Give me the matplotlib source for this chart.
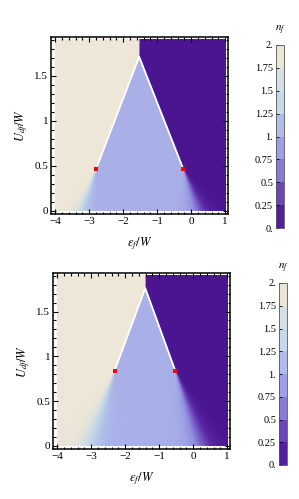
import numpy as np
import matplotlib
matplotlib.use("Agg")
import matplotlib.pyplot as plt
from matplotlib.colors import LinearSegmentedColormap, ListedColormap, BoundaryNorm
from matplotlib.cm import ScalarMappable
from matplotlib.ticker import MultipleLocator, FixedLocator

plt.rcParams['font.family'] = ['Liberation Serif', 'DejaVu Serif']
plt.rcParams['mathtext.fontset'] = 'stix'

# ---- data ----
# panel 1 (top) and panel 2 (bottom): apex of the triangle, critical end points
apex_top = (-1.53, 1.71)
crit_left_top = (-2.80, 0.46)
crit_right_top = (-0.23, 0.46)
apex_bot = (-1.41, 1.76)
crit_left_bot = (-2.31, 0.84)
crit_right_bot = (-0.53, 0.84)
# crossover width growth below the critical points (left, right)
width_top = (0.28, 0.38)
width_bot = (0.27, 0.28)

# colours of n_f = 0 ... 2
cmap_levels = [0.0, 0.25, 0.5, 0.75, 1.0, 1.25, 1.5, 1.75, 2.0]
cmap_colors = ['#4b1590', '#5a2aa6', '#7658c4', '#9290e0', '#a9b0e8',
               '#b8c8ea', '#c8dbe8', '#dfe2dc', '#eee7d8']
band_colors = ['#52209e', '#6b46b8', '#8a7ad8', '#9e9fe6',
               '#b2bcea', '#c6d8ea', '#d6dfe1', '#ebe6d8']
cbar_ticks = [0, 0.25, 0.5, 0.75, 1, 1.25, 1.5, 1.75, 2]
cbar_labels = ['0.', '0.25', '0.5', '0.75', '1.', '1.25', '1.5', '1.75', '2.']
xticks = [-4, -3, -2, -1, 0, 1]
xtick_labels = ['\u22124', '\u22123', '\u22122', '\u22121', '0', '1']
yticks = [0, 0.5, 1, 1.5]
ytick_labels = ['0', '0.5', '1', '1.5']

cmap = LinearSegmentedColormap.from_list(
    'nf', list(zip(np.array(cmap_levels) / 2, cmap_colors)))
band_cmap = ListedColormap(band_colors)
band_norm = BoundaryNorm(cbar_ticks, len(band_colors))


def boundary(y, apex, crit):
    slope = (apex[0] - crit[0]) / (apex[1] - crit[1])
    xb = crit[0] + slope * (y - crit[1])
    return np.where(y > apex[1], apex[0], xb)


def field(apex, cl, cr, wid):
    x = np.linspace(-4, 1, 500)
    y = np.linspace(0, 1.9, 400)
    X, Y = np.meshgrid(x, y)
    xl = boundary(Y, apex, cl)
    xr = boundary(Y, apex, cr)
    wl = np.maximum(cl[1] - Y, 0) * wid[0] + 1e-3
    wr = np.maximum(cr[1] - Y, 0) * wid[1] + 1e-3
    nl = 1 / (1 + np.exp(np.clip((X - xl) / wl, -50, 50)))
    nr = 1 / (1 + np.exp(np.clip((X - xr) / wr, -50, 50)))
    return nl + nr


def panel(ax, cax, apex, cl, cr, wid, xlab):
    nf = field(apex, cl, cr, wid)
    ax.imshow(nf, origin='lower', extent=[-4, 1, 0, 1.9], aspect='auto',
              cmap=cmap, vmin=0, vmax=2, interpolation='bilinear')
    ax.plot([cl[0], apex[0], cr[0]], [cl[1], apex[1], cr[1]],
            color='white', lw=1.3, solid_capstyle='butt')
    ax.plot([cl[0], cr[0]], [cl[1], cr[1]], 's', color='red', ms=2.2, mew=0)
    ax.set_xlim(-4.12, 1.08)
    ax.set_ylim(-0.035, 1.93)
    ax.xaxis.set_major_locator(FixedLocator(xticks))
    ax.set_xticklabels(xtick_labels)
    ax.yaxis.set_major_locator(FixedLocator(yticks))
    ax.set_yticklabels(ytick_labels)
    ax.xaxis.set_minor_locator(MultipleLocator(0.2))
    ax.yaxis.set_minor_locator(MultipleLocator(0.1))
    ax.tick_params(which='both', direction='in', top=True, right=True,
                   labelsize=8, width=0.8, pad=2)
    ax.tick_params(which='major', length=3.5)
    ax.tick_params(which='minor', length=1.8)
    for s in ax.spines.values():
        s.set_linewidth(1.1)
    ax.set_xlabel(xlab, fontsize=9, labelpad=7)
    ax.set_ylabel(r'$U_{df}/W$', fontsize=9, labelpad=3)

    cb = plt.colorbar(ScalarMappable(norm=band_norm, cmap=band_cmap), cax=cax,
                      ticks=cbar_ticks)
    cb.ax.set_yticklabels(cbar_labels)
    cb.ax.yaxis.set_ticks_position('left')
    cb.ax.tick_params(direction='in', length=2, width=0.6, labelsize=7.5, pad=2)
    cb.outline.set_linewidth(0.6)
    cb.outline.set_edgecolor('#555555')
    cax.set_title(r'$n_f$', fontsize=8, pad=10)


W, H = 299, 499
fig = plt.figure(figsize=(W / 100, H / 100), dpi=100)

ax1 = fig.add_axes([51 / W, 1 - 214 / H, 177 / W, 177 / H])
cax1 = fig.add_axes([276 / W, 1 - 228 / H, 8 / W, 183 / H])
ax2 = fig.add_axes([53 / W, 1 - 449 / H, 177 / W, 176 / H])
cax2 = fig.add_axes([279 / W, 1 - 465 / H, 8 / W, 182 / H])

panel(ax1, cax1, apex_top, crit_left_top, crit_right_top, width_top, r'$\epsilon_f/W$')
panel(ax2, cax2, apex_bot, crit_left_bot, crit_right_bot, width_bot, r'$\epsilon_f/W$')

fig.savefig('out.png', dpi=100)
